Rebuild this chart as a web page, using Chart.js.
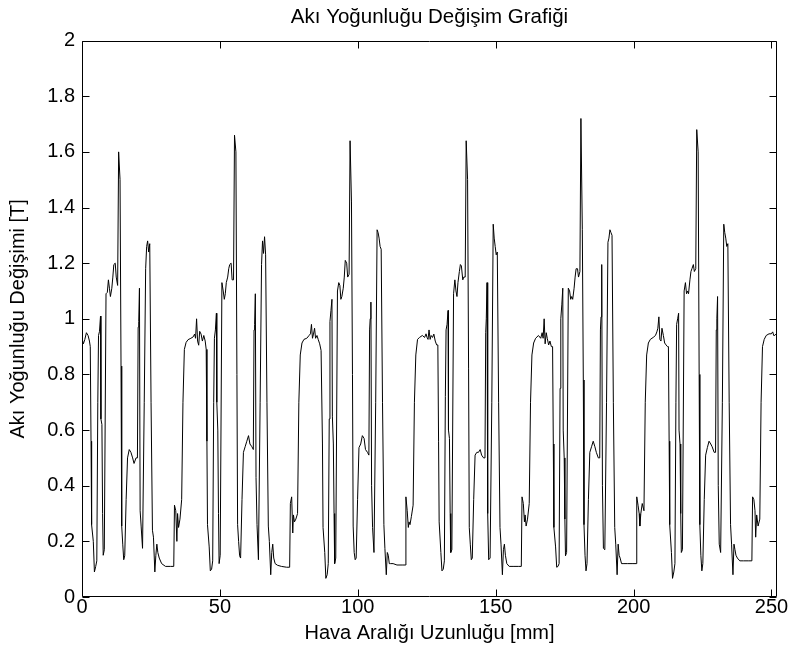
<!DOCTYPE html>
<html>
<head>
<meta charset="utf-8">
<title>Akı Yoğunluğu Değişim Grafiği</title>
<script src="https://cdn.jsdelivr.net/npm/chart.js@4.4.1/dist/chart.umd.min.js"></script>
<style>
  html, body { margin: 0; padding: 0; background: #fff; }
  #wrap { width: 793px; height: 651px; position: relative; }
</style>
</head>
<body>
<div id="wrap"><canvas id="akiChart"></canvas></div>
<script>
// -------- Data (x in mm, B in T) --------
const xTicks = [0, 50, 100, 150, 200, 250];
const yTicks = [0, 0.2, 0.4, 0.6, 0.8, 1, 1.2, 1.4, 1.6, 1.8, 2];
const xMax = 252;

const posP1 = [0, 0.5, 1.0, 1.6, 2.2, 2.7, 3.0,
  3.27, 3.48, 4.10, 4.50, 4.97, 5.37,
  5.73, 5.99, 6.35, 6.71, 6.86, 7.22, 7.47, 7.69, 8.09,
  8.71, 9.18, 9.58, 9.94, 10.30, 10.81, 11.18, 11.54, 12.05, 12.41, 12.92,
  13.28, 13.79, 14.15, 14.40, 14.77, 15.13, 15.49,
  16.00, 16.51, 17.13, 17.74, 18.36, 18.87, 19.59, 20.10,
  20.36, 20.57, 20.83, 21.08, 21.44, 21.95,
  22.57, 23.08, 23.44, 23.80, 24.17, 24.56,
  25.04, 25.54, 25.91, 26.41, 26.78, 27.14, 27.50, 28.01, 28.88, 30.28, 32.15, 33.27,
  33.53, 34.00, 34.40, 34.65, 35.01, 35.52, 36.14, 36.61,
  37.12, 37.74, 38.46, 39.48, 40.31, 40.82, 41.18, 41.55, 41.91, 42.31, 42.67, 43.18, 43.65, 44.16, 44.67];
const akiP1 = [0.93, 0.91, 0.925, 0.95, 0.94, 0.92, 0.90,
  0.56, 0.26, 0.20, 0.09, 0.11, 0.13,
  0.70, 0.94, 0.955, 1.01, 0.64, 0.62, 0.30, 0.15, 0.17,
  1.09, 1.095, 1.14, 1.11, 1.08, 1.11, 1.15, 1.195, 1.20, 1.15, 1.12,
  1.60, 1.50, 0.83, 0.255, 0.19, 0.134, 0.148,
  0.35, 0.50, 0.53, 0.52, 0.50, 0.48, 0.50, 0.50,
  0.97, 0.99, 1.11, 0.31, 0.255, 0.175,
  0.70, 1.18, 1.26, 1.28, 1.24, 1.27,
  0.70, 0.24, 0.215, 0.09, 0.15, 0.19, 0.16, 0.14, 0.12, 0.11, 0.11, 0.11,
  0.33, 0.31, 0.20, 0.30, 0.25, 0.28, 0.35, 0.70,
  0.89, 0.915, 0.925, 0.93, 0.935, 0.945, 0.93, 1.00, 0.92, 0.905, 0.955, 0.945, 0.92, 0.94, 0.92];

const posP2 = [45.03, 45.29, 45.50, 46.12, 46.52, 46.99, 47.39,
  47.75, 48.01, 48.37, 48.73, 48.88, 49.24, 49.49, 49.71, 50.11,
  50.73, 51.20, 51.60, 51.96, 52.32, 52.83, 53.20, 53.56, 54.07, 54.43, 54.94,
  55.30, 55.81, 56.17, 56.42, 56.79, 57.15, 57.51,
  58.02, 58.53, 59.15, 59.76, 60.38, 60.89, 61.61, 62.12,
  62.38, 62.59, 62.85, 63.10, 63.46, 63.97,
  64.59, 65.10, 65.46, 65.82, 66.19, 66.58,
  67.06, 67.56, 67.93, 68.43, 68.80, 69.16, 69.52, 70.03, 70.90, 72.30, 74.17, 75.29,
  75.55, 76.02, 76.42, 76.67, 77.03, 77.54, 78.16, 78.63,
  79.14, 79.76, 80.48, 81.50, 82.33, 82.84, 83.20, 83.57, 83.93, 84.33, 84.69, 85.20, 85.67, 86.18, 86.69];
const akiP2 = [0.89, 0.56, 0.26, 0.18, 0.094, 0.10, 0.13,
  0.70, 0.93, 0.96, 1.02, 0.70, 0.60, 0.30, 0.12, 0.15,
  1.13, 1.10, 1.07, 1.09, 1.13, 1.15, 1.18, 1.195, 1.20, 1.14, 1.14,
  1.66, 1.60, 0.80, 0.26, 0.20, 0.148, 0.14,
  0.35, 0.52, 0.54, 0.56, 0.58, 0.55, 0.54, 0.53,
  0.96, 0.98, 1.09, 0.43, 0.26, 0.134,
  0.70, 1.195, 1.28, 1.235, 1.295, 1.23,
  0.70, 0.255, 0.20, 0.08, 0.16, 0.19, 0.14, 0.12, 0.114, 0.11, 0.107, 0.107,
  0.336, 0.36, 0.23, 0.295, 0.27, 0.28, 0.30, 0.70,
  0.87, 0.913, 0.926, 0.93, 0.94, 0.946, 0.98, 0.93, 0.945, 0.966, 0.93, 0.94, 0.925, 0.91, 0.886];

const posP3 = [86.93, 87.19, 87.40, 88.02, 88.42, 88.89, 89.29,
  89.65, 89.91, 90.27, 90.63, 90.78, 91.14, 91.39, 91.61, 92.01,
  92.63, 93.10, 93.50, 93.86, 94.22, 94.73, 95.10, 95.46, 95.97, 96.33, 96.84,
  97.20, 97.71, 98.07, 98.32, 98.69, 99.05, 99.41,
  99.92, 100.43, 101.05, 101.66, 102.28, 102.79, 103.51, 104.02,
  104.28, 104.49, 104.75, 105.00, 105.36, 105.87,
  106.49, 107.00, 107.36, 107.72, 108.09, 108.48,
  108.96, 109.46, 109.83, 110.33, 110.70, 111.06, 111.42, 111.93, 112.80, 114.20, 116.07, 117.19,
  117.45, 117.92, 118.32, 118.57, 118.93, 119.44, 120.06, 120.53,
  121.04, 121.66, 122.38, 123.40, 124.23, 124.74, 125.10, 125.47, 125.83, 126.23, 126.59, 127.10, 127.57, 128.08, 128.59];
const akiP3 = [0.886, 0.55, 0.25, 0.16, 0.067, 0.08, 0.12,
  0.64, 0.99, 1.03, 1.07, 0.65, 0.55, 0.30, 0.12, 0.14,
  1.10, 1.13, 1.12, 1.07, 1.08, 1.11, 1.15, 1.21, 1.20, 1.15, 1.16,
  1.64, 1.42, 0.80, 0.255, 0.16, 0.134, 0.14,
  0.35, 0.537, 0.55, 0.58, 0.57, 0.53, 0.52, 0.51,
  0.96, 1.00, 1.06, 0.40, 0.25, 0.16,
  0.70, 1.32, 1.31, 1.29, 1.26, 1.25,
  0.70, 0.26, 0.175, 0.08, 0.16, 0.15, 0.12, 0.12, 0.12, 0.115, 0.115, 0.115,
  0.36, 0.31, 0.25, 0.27, 0.26, 0.29, 0.33, 0.70,
  0.87, 0.926, 0.933, 0.94, 0.933, 0.946, 0.933, 0.926, 0.96, 0.926, 0.94, 0.933, 0.945, 0.92, 0.906];

const posP4 = [129.03, 129.29, 129.50, 130.12, 130.52, 130.99, 131.39,
  131.75, 132.01, 132.37, 132.73, 132.88, 133.24, 133.49, 133.71, 134.11,
  134.73, 135.20, 135.60, 135.96, 136.32, 136.83, 137.20, 137.56, 138.07, 138.43, 138.94,
  139.30, 139.81, 140.17, 140.42, 140.79, 141.15, 141.51,
  142.02, 142.53, 143.15, 143.76, 144.38, 144.89, 145.61, 146.12,
  146.38, 146.59, 146.85, 147.10, 147.46, 147.97,
  148.59, 149.10, 149.46, 149.82, 150.19, 150.58,
  151.06, 151.56, 151.93, 152.43, 152.80, 153.16, 153.52, 154.03, 154.90, 156.30, 158.17, 159.29,
  159.55, 160.02, 160.42, 160.67, 161.03, 161.54, 162.16, 162.63,
  163.14, 163.76, 164.48, 165.50, 166.33, 166.84, 167.20, 167.57, 167.93, 168.33, 168.69, 169.20, 169.67, 170.18];
const akiP4 = [0.906, 0.56, 0.27, 0.16, 0.094, 0.10, 0.13,
  0.72, 0.96, 0.98, 1.03, 0.60, 0.57, 0.30, 0.16, 0.17,
  1.09, 1.14, 1.10, 1.08, 1.13, 1.17, 1.195, 1.19, 1.14, 1.15, 1.15,
  1.64, 1.50, 0.82, 0.25, 0.19, 0.134, 0.14,
  0.35, 0.51, 0.52, 0.52, 0.53, 0.51, 0.50, 0.50,
  0.95, 1.00, 1.13, 0.30, 0.134, 0.14,
  0.70, 1.34, 1.29, 1.26, 1.23, 1.24,
  0.70, 0.25, 0.19, 0.08, 0.17, 0.19, 0.15, 0.12, 0.11, 0.11, 0.11, 0.11,
  0.36, 0.336, 0.27, 0.295, 0.255, 0.28, 0.336, 0.70,
  0.87, 0.913, 0.93, 0.94, 0.93, 0.95, 0.93, 1.00, 0.91, 0.95, 0.93, 0.906, 0.92, 0.90];

const posP5 = [170.63, 170.89, 171.10, 171.72, 172.12, 172.59, 172.99,
  173.35, 173.61, 173.97, 174.33, 174.48, 174.84, 175.09, 175.31, 175.71,
  176.33, 176.80, 177.20, 177.56, 177.92, 178.43, 178.80, 179.16, 179.67, 180.03, 180.54,
  180.90, 181.41, 181.77, 182.02, 182.39, 182.75, 183.11,
  183.62, 184.13, 184.75, 185.36, 185.98, 186.49, 187.21, 187.72,
  187.98, 188.19, 188.45, 188.70, 189.06, 189.57,
  190.19, 190.70, 191.06, 191.42, 191.79, 192.18,
  192.66, 193.16, 193.53, 194.03, 194.40, 194.76, 195.12, 195.63, 196.50, 197.90, 199.77, 200.89,
  201.15, 201.62, 202.02, 202.27, 202.63, 203.14, 203.76, 204.23,
  204.74, 205.36, 206.08, 207.10, 207.93, 208.44, 208.80, 209.17, 209.53, 209.93, 210.29, 210.80, 211.27, 211.78, 212.29];
const akiP5 = [0.90, 0.55, 0.25, 0.18, 0.107, 0.11, 0.12,
  0.75, 1.00, 1.05, 1.11, 0.60, 0.50, 0.28, 0.148, 0.16,
  1.11, 1.10, 1.07, 1.08, 1.07, 1.11, 1.15, 1.18, 1.18, 1.15, 1.17,
  1.72, 1.32, 0.78, 0.26, 0.15, 0.094, 0.12,
  0.35, 0.52, 0.54, 0.56, 0.54, 0.52, 0.50, 0.50,
  0.96, 1.007, 1.195, 0.40, 0.175, 0.17,
  0.70, 1.275, 1.29, 1.32, 1.31, 1.30,
  0.70, 0.25, 0.19, 0.08, 0.19, 0.15, 0.14, 0.12, 0.12, 0.12, 0.12, 0.12,
  0.36, 0.33, 0.30, 0.255, 0.30, 0.336, 0.31, 0.70,
  0.87, 0.913, 0.926, 0.933, 0.94, 0.953, 0.966, 1.007, 0.926, 0.92, 0.966, 0.94, 0.913, 0.906, 0.90];

const posP6 = [212.63, 212.89, 213.10, 213.72, 214.12, 214.59, 214.99,
  215.35, 215.61, 215.97, 216.33, 216.48, 216.84, 217.09, 217.31, 217.71,
  218.33, 218.80, 219.20, 219.56, 219.92, 220.43, 220.80, 221.16, 221.67, 222.03, 222.54,
  222.90, 223.41, 223.77, 224.02, 224.39, 224.75, 225.11,
  225.62, 226.13, 226.75, 227.36, 227.98, 228.49, 229.21, 229.72,
  229.98, 230.19, 230.45, 230.70, 231.06, 231.57,
  232.19, 232.70, 233.06, 233.42, 233.79, 234.18,
  234.66, 235.16, 235.53, 236.03, 236.40, 236.76, 237.12, 237.63, 238.50, 239.90, 241.77, 242.89,
  243.15, 243.62, 244.02, 244.27, 244.63, 245.14, 245.76, 246.23,
  246.74, 247.36, 248.08, 249.10, 249.93, 250.44, 250.80, 251.17, 251.53, 252.00];
const akiP6 = [0.90, 0.56, 0.26, 0.16, 0.067, 0.09, 0.12,
  0.70, 0.98, 1.00, 1.02, 0.60, 0.55, 0.30, 0.16, 0.17,
  1.10, 1.13, 1.09, 1.10, 1.09, 1.14, 1.17, 1.18, 1.195, 1.17, 1.18,
  1.68, 1.60, 0.80, 0.26, 0.15, 0.094, 0.12,
  0.35, 0.51, 0.537, 0.56, 0.55, 0.54, 0.52, 0.52,
  0.96, 1.00, 1.08, 0.40, 0.19, 0.16,
  0.70, 1.34, 1.31, 1.29, 1.26, 1.27,
  0.70, 0.26, 0.19, 0.08, 0.19, 0.17, 0.15, 0.14, 0.13, 0.13, 0.13, 0.13,
  0.36, 0.35, 0.31, 0.215, 0.295, 0.255, 0.28, 0.70,
  0.90, 0.926, 0.94, 0.946, 0.946, 0.953, 0.94, 0.94, 0.945, 0.94];

const hava = [].concat(posP1, posP2, posP3, posP4, posP5, posP6);
const aki = [].concat(akiP1, akiP2, akiP3, akiP4, akiP5, akiP6);

// -------- Look --------
const FONT = "'Liberation Sans', Arial, Helvetica, sans-serif";
const TICK_LEN = 7;
Chart.defaults.color = "#000";
Chart.defaults.font.family = FONT;
Chart.defaults.font.size = 20;

// box round the axes plus inward ticks on all four sides (matlab style)
const boxTicks = {
  id: "boxTicks",
  afterDatasetsDraw(chart) {
    const { ctx, chartArea: a, scales: { x, y } } = chart;
    ctx.save();
    ctx.strokeStyle = "#000";
    ctx.lineWidth = 1;
    const L = Math.round(a.left) + 0.5, R = Math.round(a.right) - 0.5;
    const T = Math.round(a.top) + 0.5, B = Math.round(a.bottom) - 0.5;
    ctx.beginPath();
    ctx.rect(L, T, R - L, B - T);
    x.ticks.forEach(t => {
      const px = Math.round(x.getPixelForValue(t.value)) + 0.5;
      ctx.moveTo(px, B); ctx.lineTo(px, B - TICK_LEN);
      ctx.moveTo(px, T); ctx.lineTo(px, T + TICK_LEN);
    });
    y.ticks.forEach(t => {
      const py = Math.round(y.getPixelForValue(t.value)) + 0.5;
      ctx.moveTo(L, py); ctx.lineTo(L + TICK_LEN, py);
      ctx.moveTo(R, py); ctx.lineTo(R - TICK_LEN, py);
    });
    ctx.stroke();
    ctx.restore();
  }
};

new Chart(document.getElementById("akiChart"), {
  type: "scatter",
  data: {
    datasets: [{
      data: hava.map((v, i) => ({ x: v, y: aki[i] })),
      showLine: true,
      borderColor: "#000",
      borderWidth: 1,
      pointRadius: 0,
      tension: 0
    }]
  },
  options: {
    responsive: true,
    maintainAspectRatio: false,
    animation: false,
    devicePixelRatio: 1,
    layout: { padding: { left: 0, right: 16, top: 0, bottom: 0 } },
    plugins: {
      legend: { display: false },
      tooltip: { enabled: false },
      title: {
        display: true,
        fullSize: false,
        text: "Akı Yoğunluğu Değişim Grafiği",
        font: { size: 20.5, weight: "normal" },
        padding: { top: 5, bottom: 11 }
      }
    },
    scales: {
      x: {
        type: "linear",
        min: 0,
        max: xMax,
        grid: { display: false, drawTicks: false },
        border: { display: false },
        afterBuildTicks: s => { s.ticks = xTicks.map(v => ({ value: v })); },
        afterFit: s => { s.height = 54; },
        ticks: { padding: 0, maxRotation: 0, autoSkip: false, font: { lineHeight: 1 } },
        title: {
          display: true,
          text: "Hava Aralığı Uzunluğu [mm]",
          font: { size: 20 },
          padding: { top: 0, bottom: 6 }
        }
      },
      y: {
        min: 0,
        max: 2,
        grid: { display: false, drawTicks: false },
        border: { display: false },
        afterBuildTicks: s => { s.ticks = yTicks.map(v => ({ value: v })); },
        afterFit: s => { s.width = 82; },
        ticks: { padding: 7, callback: v => String(Math.round(v * 10) / 10) },
        title: {
          display: true,
          text: "Akı Yoğunluğu Değişimi [T]",
          font: { size: 20 },
          padding: { top: 6, bottom: 0 }
        }
      }
    }
  },
  plugins: [boxTicks]
});
</script>
</body>
</html>
